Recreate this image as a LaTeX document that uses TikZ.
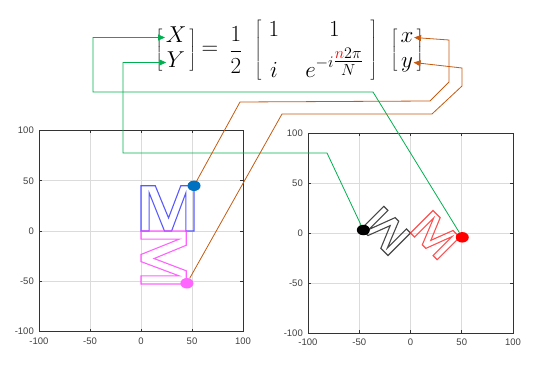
\RequirePackage{fix-cm}
\documentclass[tikz,border=0pt]{standalone}
\usepackage{amsmath}
\usepackage{fontspec}
\usepackage{xcolor}
\usetikzlibrary{arrows.meta,positioning,calc,matrix,shapes.geometric}
\newfontfamily\plotfont{Liberation Sans}
\definecolor{linkgreen}{RGB}{0,176,80}
\definecolor{linkorange}{RGB}{197,90,17}
\definecolor{dotblue}{RGB}{0,112,192}
\definecolor{dotpink}{RGB}{255,102,255}
\definecolor{letblue}{RGB}{60,60,255}
\definecolor{letpink}{RGB}{255,70,255}
\definecolor{letred}{RGB}{255,50,50}
\definecolor{letgray}{RGB}{40,40,40}
\newcommand{\eqfont}{\fontsize{23}{27}\selectfont}
\tikzset{
  gridline/.style={draw=black!14, line width=0.7pt},
  axisbox/.style={draw=black!80, line width=0.8pt},
  ticklab/.style={font=\plotfont\fontsize{9.5}{11}\selectfont, text=black!75, inner sep=0pt},
  ylab/.style={ticklab, anchor=east, xshift=-5pt},
  xlab/.style={ticklab, anchor=north, yshift=-6pt},
  mline/.style={line width=1.1pt, opacity=0.85},
  dot/.style={ellipse, inner sep=0pt, minimum width=13pt, minimum height=10.5pt},
  glink/.style={-{Triangle[length=7pt,width=6pt]}, draw=linkgreen, line width=0.8pt},
  olink/.style={-{Triangle[length=7pt,width=6pt]}, draw=linkorange, line width=0.8pt},
  vec/.style={matrix of math nodes, left delimiter={[}, right delimiter={]},
    font=\eqfont, inner xsep=1.5pt, inner ysep=0pt, row sep=5pt,
    nodes={inner sep=0.5pt, text height=15pt, text depth=4pt}},
}
% outline letter M, data units
\newcommand{\letterM}{(0,0) -- (0,45) -- (14,45) -- (27,13) -- (39,45) -- (52,45)
  -- (52,0) -- (44,0) -- (44,38) -- (30,0) -- (23,0) -- (8,38) -- (8,0) -- cycle}
% grid, frame, ticks and tick labels of one plot
\newcommand{\plotframe}{%
  \foreach \v in {-50,0,50} {
    \draw[gridline] (\v,-100) -- (\v,100);
    \draw[gridline] (-100,\v) -- (100,\v);
  }
  \draw[axisbox] (-100,-100) rectangle (100,100);
  \foreach \v in {-50,0,50} {
    \draw[axisbox] (\v,-100) -- ++(0,3pt) (\v,100) -- ++(0,-3pt)
      (-100,\v) -- ++(3pt,0) (100,\v) -- ++(-3pt,0);
  }
  \foreach \v in {-100,-50,0,50,100} {
    \node[ylab] at (-100,\v) {\v};
    \node[xlab] at (\v,-100) {\v};
  }%
}

\begin{document}
\begin{tikzpicture}[x=1pt, y=-1pt]
\useasboundingbox (0,0) rectangle (551,366);

% input plot
\begin{scope}[shift={(141,231)}, x=1.02pt, y=1.005pt]
  \plotframe
  \draw[mline, letblue] \letterM;
  \draw[mline, letpink, cm={0,-1,1,0,(0,0)}] \letterM;
  \node[dot, fill=dotblue] (bdot) at (52,45) {};
  \node[dot, fill=dotpink] (mdot) at (45,-52) {};
\end{scope}

% output plot
\begin{scope}[shift={(410.5,233)}, x=1.025pt, y=1pt]
  \plotframe
  \draw[mline, letgray, cm={-0.5,0.5,-0.5,-0.5,(0,0)}] \letterM;
  \draw[mline, letred, cm={0.5,-0.5,0.5,0.5,(0,0)}] \letterM;
  \node[dot, fill=black] (kdot) at (-46,3) {};
  \node[dot, fill=red] (rdot) at (50.5,-4.3) {};
\end{scope}

% equation
\matrix (lhs) [vec] at (176,50) {X\\Y\\};
\node[font=\eqfont] (eqsign) at (210,50) {$=$};
\node[font=\eqfont] (half) at (236,50) {$\dfrac{1}{2}$};
\matrix (mat) [matrix of math nodes, left delimiter={[}, right delimiter={]},
  font=\eqfont, inner xsep=5pt, inner ysep=2pt, column sep=24pt, row sep=9pt,
  nodes={inner sep=1pt}] at (316,50)
  {1 & 1\\
   i & e^{-i\textstyle\frac{\textcolor{red}{n}2\pi}{N}}\\};
\matrix (rhs) [vec] at (407,50) {x\\y\\};

% links
\draw[glink] (rdot) -- (373,92) -- (93,92) |- (lhs-1-1.west);
\draw[glink] (kdot) -- (327,153) -- (123,153) |- (lhs-2-1.west);
\draw[olink] (bdot) -- (240,102) -- (430,101) -- (449,82) -- (449,40) -- (rhs-1-1.east);
\draw[olink] (mdot) -- (282,114) -- (432,114) -- (462,86) -- (462,68) -- (rhs-2-1.east);
\end{tikzpicture}
\end{document}
